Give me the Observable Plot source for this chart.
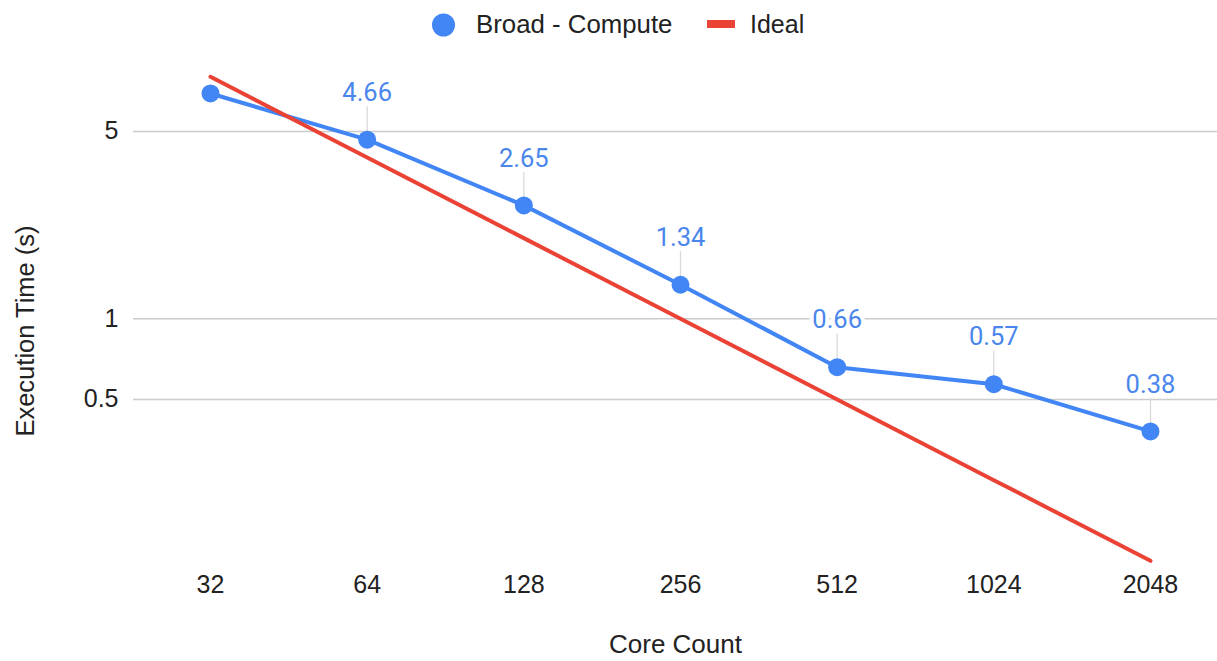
<!DOCTYPE html>
<html>
<head>
<meta charset="utf-8">
<script src="https://cdn.jsdelivr.net/npm/d3@7"></script>
<script src="https://cdn.jsdelivr.net/npm/@observablehq/plot@0.6"></script>
<style>
  body { margin: 0; background: #fff; }
  #wrap { position: relative; width: 1217px; height: 661px; overflow: hidden; }
  #legend { position: absolute; left: 0; top: 0; }
  #chart svg { display: block; }
</style>
</head>
<body>
<div id="wrap">
  <div id="chart"></div>
  <svg id="legend" width="1217" height="50"></svg>
</div>
<script>
// Core counts on the x axis
const cores = [32, 64, 128, 256, 512, 1024, 2048];
// Measured execution times (seconds)
const broadCompute = [6.93, 4.66, 2.65, 1.34, 0.66, 0.57, 0.38];
// Ideal linear scaling (seconds)
const ideal = [8, 4, 2, 1, 0.5, 0.25, 0.125];
// Which measured points carry a value label
const showLabel = [false, true, true, true, true, true, true];
// Y axis ticks
const yTicks = [0.5, 1, 5];

const seriesNames = ["Broad - Compute", "Ideal"];
const seriesColors = ["#4285f4", "#ea4335"];
const labelColor = "#4a86ec";

const measured = cores.map((c, i) => ({cores: c, time: broadCompute[i], label: showLabel[i]}));
const idealRows = cores.map((c, i) => ({cores: c, time: ideal[i]}));
const labeled = measured.filter(d => d.label);

const sans = "'Liberation Sans', Arial, Helvetica, sans-serif";

const chart = Plot.plot({
  width: 1217,
  height: 661,
  marginLeft: 133,
  marginRight: 0,
  marginTop: 50,
  marginBottom: 96,
  style: {fontFamily: sans, fontSize: "25px", color: "#222", background: "#fff"},
  x: {type: "log", base: 2, domain: [22.76, 2755]},
  y: {type: "log", domain: [0.1201, 10.026]},
  marks: [
    Plot.gridY(yTicks, {stroke: "#cccccc", strokeOpacity: 1, strokeWidth: 1.6}),
    Plot.axisY(yTicks, {tickSize: 0, tickPadding: 15, tickFormat: d => String(d), label: null, fontSize: 25}),
    Plot.axisX(cores, {tickSize: 0, tickPadding: 10, tickFormat: d => String(d), label: null, fontSize: 25}),
    Plot.text(["Core Count"], {frameAnchor: "bottom", dy: 87, fontSize: 26, fill: "#222"}),
    Plot.text(["Execution Time (s)"], {frameAnchor: "left", textAnchor: "middle", rotate: -90, dx: -108, dy: 23, fontSize: 25.5, fill: "#222"}),
    // leader lines from each value label down to its point
    Plot.ruleX(labeled, {x: "cores", y1: "time", y2: "time", insetBottom: 33, stroke: "#d9d9d9", strokeWidth: 1.3}),
    Plot.line(measured, {x: "cores", y: "time", stroke: seriesColors[0], strokeWidth: 4}),
    Plot.line(idealRows, {x: "cores", y: "time", stroke: seriesColors[1], strokeWidth: 4}),
    Plot.dot(measured, {x: "cores", y: "time", r: 9, fill: seriesColors[0]}),
    Plot.text(labeled, {
      x: "cores", y: "time", text: d => String(d.time), dy: -47,
      fill: labelColor, stroke: "white", strokeWidth: 8, paintOrder: "stroke",
      fontFamily: "Roboto, sans-serif", fontSize: 25.5
    })
  ]
});
document.getElementById("chart").appendChild(chart);

// Legend across the top
const legend = d3.select("#legend");
legend.append("circle").attr("cx", 443.5).attr("cy", 25).attr("r", 11.5).attr("fill", seriesColors[0]);
legend.append("text").attr("x", 476).attr("y", 33).text(seriesNames[0])
  .attr("font-family", sans).attr("font-size", 25.8).attr("fill", "#222");
legend.append("rect").attr("x", 707).attr("y", 20).attr("width", 28).attr("height", 8).attr("fill", seriesColors[1]);
legend.append("text").attr("x", 750).attr("y", 33).text(seriesNames[1])
  .attr("font-family", sans).attr("font-size", 25).attr("fill", "#222");
</script>
</body>
</html>
